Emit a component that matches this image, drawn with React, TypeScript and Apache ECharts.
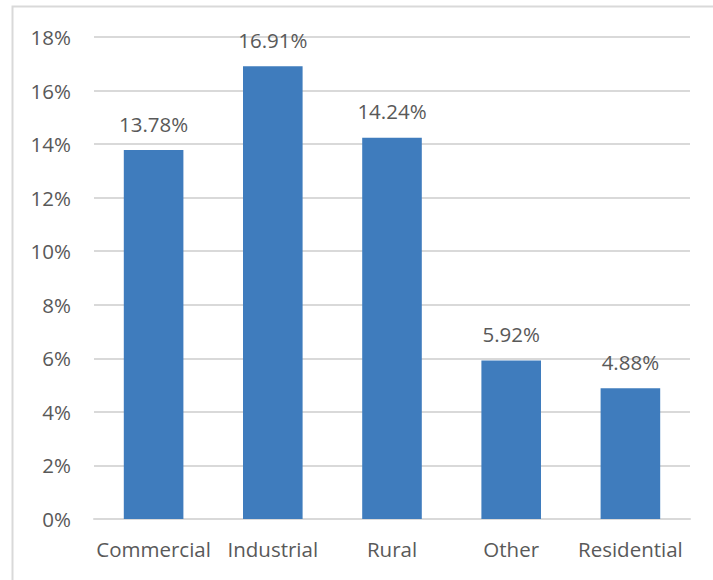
import React, { useEffect, useRef } from "react";
import * as echarts from "echarts";

const categories = ["Commercial", "Industrial", "Rural", "Other", "Residential"];
const values = [13.78, 16.91, 14.24, 5.92, 4.88];
const yTicks = { min: 0, max: 18, interval: 2 };

export default function App() {
  const ref = useRef<HTMLDivElement>(null);
  useEffect(() => {
    if (!ref.current) return;
    const chart = echarts.init(ref.current, null, { renderer: "svg" });
    const font = "'Open Sans', Lato, sans-serif";
    const fs = 20.5;
    chart.setOption({
      animation: false,
      backgroundColor: "#ffffff",
      graphic: [
        {
          type: "rect",
          shape: { x: 12.5, y: 6.5, width: 720, height: 600 },
          style: { fill: "none", stroke: "#d9d9d9", lineWidth: 2 },
          silent: true,
        },
      ],
      grid: { left: 94, right: 23, top: 37, bottom: 61, containLabel: false },
      xAxis: {
        type: "category",
        data: categories,
        axisLine: { show: true, lineStyle: { color: "#d9d9d9", width: 2 } },
        axisTick: { show: false },
        axisLabel: { color: "#595959", fontSize: fs, fontFamily: font, margin: 19, interval: 0 },
      },
      yAxis: {
        type: "value",
        min: yTicks.min,
        max: yTicks.max,
        interval: yTicks.interval,
        axisLine: { show: false },
        axisTick: { show: false },
        splitLine: { lineStyle: { color: "#d9d9d9", width: 2 } },
        axisLabel: {
          color: "#595959",
          fontSize: fs,
          fontFamily: font,
          margin: 23,
          formatter: (v: number) => `${v}%`,
        },
      },
      series: [
        {
          type: "bar",
          data: values,
          barWidth: "50%",
          itemStyle: { color: "#3f7cbd" },
          label: {
            show: true,
            position: "top",
            distance: 16,
            color: "#595959",
            fontSize: fs,
            fontFamily: font,
            formatter: (p: any) => `${p.value.toFixed(2)}%`,
          },
        },
      ],
    });
    return () => chart.dispose();
  }, []);
  return (
    <div
      ref={ref}
      style={{ position: "fixed", left: 0, top: 0, width: 713, height: 580, background: "#fff" }}
    />
  );
}
